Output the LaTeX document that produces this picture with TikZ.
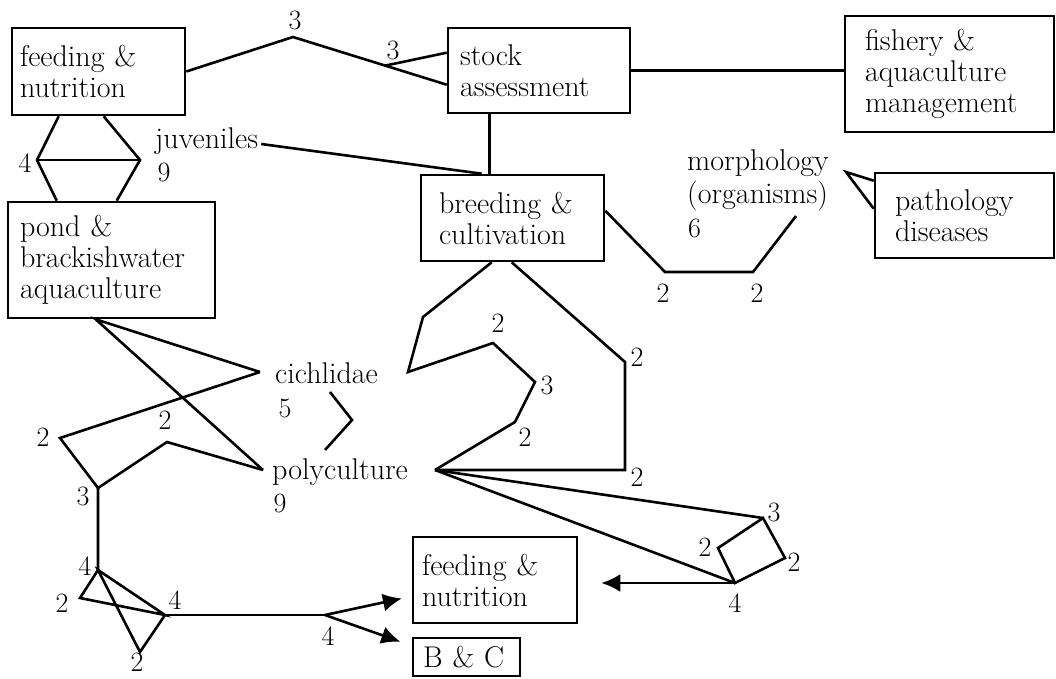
\documentclass[tikz,border=0pt]{standalone}
\usepackage{fontspec}
\usetikzlibrary{arrows.meta,calc}
\tikzset{
 lbl/.style={font=\fontsize{30}{31}\selectfont, inner sep=0pt},
 num/.style={font=\fontsize{28}{30}\selectfont, inner sep=0pt},
 boxn/.style={draw, line width=2.6pt, align=left, inner ysep=0pt, font=\fontsize{30}{31}\selectfont},
 conn/.style={line width=2.6pt, line join=miter},
 arr/.style={conn, -{Latex[length=19pt,width=18pt]}},
}
\begin{document}
\begin{tikzpicture}[x=1pt,y=-1pt]
\useasboundingbox (0,0) rectangle (1056,678);
% boxes
\node[boxn, minimum width=173pt, minimum height=87pt, inner xsep=8pt, text width=157pt] (fn1) at (98.5,71.5) {feeding~\&\\nutrition};
\node[boxn, minimum width=182pt, minimum height=85pt, inner xsep=12pt, text width=158pt] (sa) at (539,70.5) {stock\\assessment};
\node[boxn, minimum width=209pt, minimum height=116pt, inner xsep=20pt, text width=169pt] (fam) at (949.5,74) {fishery~\&\\aquaculture\\management};
\node[boxn, minimum width=207pt, minimum height=116pt, inner xsep=12pt, text width=183pt] (pba) at (111.5,260) {pond~\&\\brackishwater\\aquaculture};
\node[boxn, minimum width=183pt, minimum height=86pt, inner xsep=18pt, text width=147pt] (bc) at (512.5,218) {breeding~\&\\cultivation};
\node[boxn, minimum width=179pt, minimum height=85pt, inner xsep=20pt, text width=139pt] (pd) at (964.5,215.5) {pathology\\diseases};
\node[boxn, minimum width=164pt, minimum height=86pt, inner xsep=9pt, text width=146pt] (fn2) at (495,580) {feeding~\&\\nutrition};
\node[boxn, minimum width=107pt, minimum height=38pt, inner xsep=10pt, text width=87pt] (BC) at (466.5,657) {B~\&~C};
% free labels
\node[lbl, anchor=base west] (juv) at (155,148) {juveniles};
\node[lbl, anchor=base west] (morph) at (687,170) {morphology};
\node[lbl, anchor=base west] (org) at (687,203) {(organisms)};
\node[lbl, anchor=base west] (cich) at (275,383) {cichlidae};
\node[lbl, anchor=base west] (poly) at (272,479) {polyculture};
% numbers
\node[num] (n3a) at (295,20) {3};
\node[num] (n3b) at (393,50) {3};
\node[num] (n4a) at (25,163) {4};
\node[num] (n9a) at (164,172) {9};
\node[num, anchor=base west] (n6) at (688,237) {6};
\node[num] (n2a) at (663,293) {2};
\node[num] (n2b) at (757,293) {2};
\node[num] (n5) at (285,408) {5};
\node[num] (n9b) at (280,503) {9};
\node[num] (n2c) at (498,323) {2};
\node[num] (n3c) at (547,385) {3};
\node[num] (n2d) at (525,437) {2};
\node[num] (n2e) at (637,357) {2};
\node[num] (n2f) at (637,477) {2};
\node[num] (n2g) at (43,437) {2};
\node[num] (n2h) at (165,420) {2};
\node[num] (n3d) at (83,496) {3};
\node[num] (n4b) at (85,566) {4};
\node[num] (n2i) at (62,603) {2};
\node[num] (n4c) at (175,600) {4};
\node[num] (n2j) at (137,662) {2};
\node[num] (n4d) at (328,636) {4};
\node[num] (n3e) at (774,512) {3};
\node[num] (n2k) at (794,562) {2};
\node[num] (n2l) at (705,547) {2};
\node[num] (n4e) at (735,603) {4};
% coordinates
\coordinate (pk) at (293,37);
\coordinate (saA) at ($(sa.north west)+(0,26)$);
\coordinate (saB) at ($(sa.north west)+(0,58)$);
\coordinate (br3) at ($(pk)!0.6!(saB)$);
\coordinate (sab) at ($(sa.south west)+(43,0)$);
\coordinate (juvE) at ($(juv.base east)+(3,-4)$);
\coordinate (bcJ) at ($(bc.north west)+(62,0)$);
\coordinate (h1) at (37,160);
\coordinate (h2) at (140,160);
\coordinate (bcR) at ($(bc.north east)+(0,37)$);
\coordinate (m1) at (665,272);
\coordinate (m2) at (753,272);
\coordinate (m3) at (796,216);
\coordinate (mv) at (846,172);
\coordinate (ce) at (408,372);
\coordinate (pe) at (435,470);
\coordinate (b1) at (423,317);
\coordinate (c2) at (493,343);
\coordinate (c3) at (535,382);
\coordinate (c4) at (515,422);
\coordinate (e1) at (625,362);
\coordinate (e2) at (625,470);
\coordinate (cw) at (260,372);
\coordinate (pw) at (263,470);
\coordinate (g1) at (60,438);
\coordinate (k3) at (98,488);
\coordinate (g2) at (167,442);
\coordinate (k4) at (98,570);
\coordinate (t2) at (80,598);
\coordinate (t4) at (165,615);
\coordinate (t2b) at (140,652);
\coordinate (f4) at (325,615);
\coordinate (d3) at (763,518);
\coordinate (d4) at (735,583);
\coordinate (dr) at (785,558);
\coordinate (dl) at (718,548);
\coordinate (q1) at (330,392);
\coordinate (q2) at (352,420);
\coordinate (q3) at (325,450);
% connectors
\draw[conn] (fn1.east) -- (pk) -- (saB);
\draw[conn] (br3) -- (saA);
\draw[conn] (sa.east) -- (sa.east -| fam.west);
\draw[conn] (sab) -- (sab |- bc.north);
\draw[conn] (juvE) -- (bcJ);
\draw[conn] ($(fn1.south west)+(48,0)$) -- (h1) -- ($(pba.north west)+(50,0)$);
\draw[conn] ($(fn1.south west)+(93,0)$) -- (h2) -- ($(pba.north west)+(110,0)$);
\draw[conn] (h1) -- (h2);
\draw[conn] (bcR) -- (m1) -- (m2) -- (m3);
\draw[conn] ($(pd.north west)+(0,9)$) -- (mv) -- ($(pd.north west)+(0,37)$);
\draw[conn] ($(bc.south west)+(72,0)$) -- (b1) -- (ce) -- (c2) -- (c3) -- (c4) -- (pe);
\draw[conn] ($(bc.south west)+(92,0)$) -- (e1) -- (e2) -- (pe);
\draw[conn] (cw) -- ($(pba.south west)+(89,0)$) -- (pw);
\draw[conn] (cw) -- (g1) -- (k3) -- (g2) -- (pw);
\draw[conn] (q1) -- (q2) -- (q3);
\draw[conn] (k3) -- (k4) -- (t2) -- (t4) -- (k4) -- (t2b) -- (t4);
\draw[conn] (t4) -- (f4);
\draw[arr, shorten >=10pt] (f4) -- ($(fn2.south west)+(0,-28)$);
\draw[arr, shorten >=12pt] (f4) -- ($(BC.north west)+(0,9)$);
\draw[conn] (pe) -- (d3);
\draw[conn] (pe) -- (d4);
\draw[conn] (d3) -- (dr) -- (d4) -- (dl) -- cycle;
\draw[arr, shorten >=23pt] (d4) -- (d4 -| fn2.east);
\end{tikzpicture}
\end{document}
